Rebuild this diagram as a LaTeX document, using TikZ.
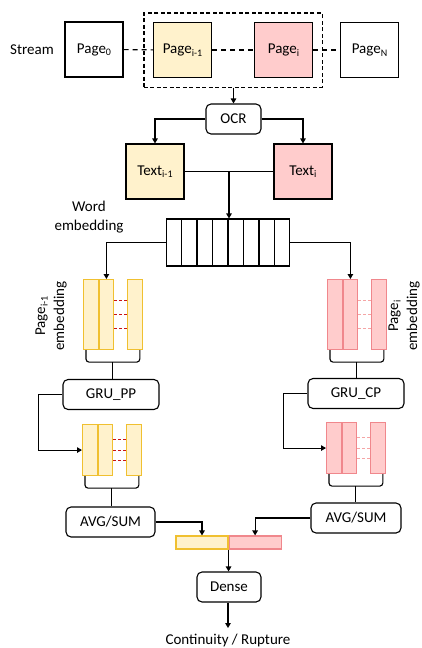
\documentclass[tikz,border=0pt]{standalone}
\usepackage{fontspec}
\setmainfont{Carlito}
\usetikzlibrary{arrows.meta,calc,fit}
\definecolor{yfill}{RGB}{255,242,204}
\definecolor{yline}{RGB}{240,192,48}
\definecolor{pfill}{RGB}{255,204,204}
\definecolor{pline}{RGB}{240,135,140}
\definecolor{dred}{RGB}{200,20,20}
\definecolor{dpink}{RGB}{245,165,165}
\tikzset{
	>={Triangle[length=5pt,width=5.5pt]},
	pg/.style={draw, minimum width=58pt, minimum height=55pt, inner sep=0pt},
	rb/.style={draw, rounded corners=5pt, minimum height=30pt, inner sep=0pt},
	ye/.style={fill=yfill},
	pk/.style={fill=pfill},
	ybar/.style={draw=yline, fill=yfill, minimum width=14.5pt, inner sep=0pt},
	pbar/.style={draw=pline, fill=pfill, minimum width=14.5pt, inner sep=0pt},
	dsh/.style={dash pattern=on 5pt off 4pt},
}
\newcommand{\dn}[1]{\raisebox{-0.35ex}{\fontsize{10}{10}\selectfont #1}}
\newcommand{\embstack}[6]{%
	\node[#5, minimum height=#4pt, anchor=north west] (#1a) at (#2,#3) {};
	\node[#5, minimum height=#4pt, anchor=north west] (#1b) at (#1a.north east) {};
	\node[#5, minimum height=#4pt, anchor=north west] (#1c) at ([xshift=13pt]#1b.north east) {};
	\foreach \f in {0.3,0.5,0.7}
		\draw[#6, dash pattern=on 3pt off 2pt] ($(#1b.north east)!\f!(#1b.south east)$) -- ($(#1c.north west)!\f!(#1c.south west)$);
	\draw[rounded corners=3pt] ([xshift=3pt]#1a.south west) -- ++(0,12) -| ([xshift=-3pt]#1c.south east);
	\coordinate (#1) at ($(#1a.south west)!0.5!(#1c.south east)+(0,12)$);
}

\begin{document}
\begin{tikzpicture}[x=1pt, y=-1pt, line width=1.1pt, font=\fontsize{15}{19}\selectfont]
	\useasboundingbox (0,0) rectangle (422,648);

	\node (stream) at (32,49.5) {Stream};
	\node[pg] (p0) at (94,49.5) {Page\dn{0}};
	\node[pg, ye] (pa) at (182.5,50) {Page\dn{i-1}};
	\node[pg, pk] (pb) at (283.5,50) {Page\dn{i}};
	\node[pg] (pn) at (369.5,50) {Page\dn{N}};
	\draw[dsh] (p0) -- (pa);
	\draw[dsh] (pa) -- (pb);
	\draw[dsh] (pb) -- (pn);
	\node[draw, dash pattern=on 4pt off 2.5pt, fit=(pa)(pb), inner xsep=9pt, inner ysep=9pt] (win) {};

	\node[rb, minimum width=55pt] (ocr) at (233.5,119) {OCR};
	\draw[->] (win.south -| ocr.north) -- (ocr.north);

	\node[pg, ye] (ta) at (155,171.5) {Text\dn{i-1}};
	\node[pg, pk] (tb) at (303,171.5) {Text\dn{i}};
	\draw[->] (ocr.west) -| (ta.north);
	\draw[->] (ocr.east) -| (tb.north);
	\draw (ta.east) -- (tb.west);
	\coordinate (mid) at ($(ta.east)!0.5!(tb.west)$);

	\node[draw, minimum width=123pt, minimum height=47pt, inner sep=0pt] (emb) at (228,242.5) {};
	\foreach \k in {1,...,7}
		\draw ($(emb.south west)!\k/8!(emb.south east)$) -- ($(emb.north west)!\k/8!(emb.north east)$);
	\draw[->] (mid) -- (mid |- emb.north);
	\node[align=center] (wlab) at (89,217) {Word\\embedding};

	\embstack{sa}{83}{279}{70}{ybar}{dred}
	\embstack{sb}{327}{279}{70}{pbar}{dpink}
	\draw[->] (emb.west) -| (sab.north);
	\draw[->] (emb.east) -| (sbb.north);
	\node[rotate=90, align=center] (la) at (51,316) {Page\dn{i-1}\\embedding};
	\node[rotate=90, align=center] (lb) at (404,316) {Page\dn{i}\\embedding};

	\node[rb, minimum width=96pt] (gpp) at (111,394.5) {GRU\_PP};
	\node[rb, minimum width=96pt] (gcp) at (356,393.5) {GRU\_CP};
	\draw (sa) -- (gpp.north -| sa);
	\draw (sb) -- (gcp.north -| sb);

	\embstack{sc}{82}{424}{51}{ybar}{dred}
	\embstack{sd}{326}{422}{51}{pbar}{dpink}
	\draw[->] (gpp.west) -- ++(-24,0) |- (sca.west);
	\draw[->] (gcp.west) -- ++(-24,0) |- (sda.west);

	\node[rb, minimum width=89pt] (avga) at (110.5,522) {AVG/SUM};
	\node[rb, minimum width=90pt] (avgb) at (356,518) {AVG/SUM};
	\draw (sc) -- (avga.north -| sc);
	\draw (sd) -- (avgb.north -| sd);

	\node[draw=yline, fill=yfill, minimum width=52pt, minimum height=13pt, inner sep=0pt] (cy) at (202,542.5) {};
	\node[draw=pline, fill=pfill, minimum width=52pt, minimum height=13pt, inner sep=0pt, anchor=west] (cp) at (cy.east) {};
	\draw[->] (avga.east) -| (cy.north);
	\draw[->] (avgb.west) -| (cp.north);

	\node[rb, minimum width=64pt] (dense) at (229,587) {Dense};
	\draw[->] (cy.south east) -- (cy.south east |- dense.north);
	\node[inner sep=5pt] (out) at (228,640) {Continuity / Rupture};
	\draw[->] (dense.south -| out) -- (out.north);
\end{tikzpicture}
\end{document}
